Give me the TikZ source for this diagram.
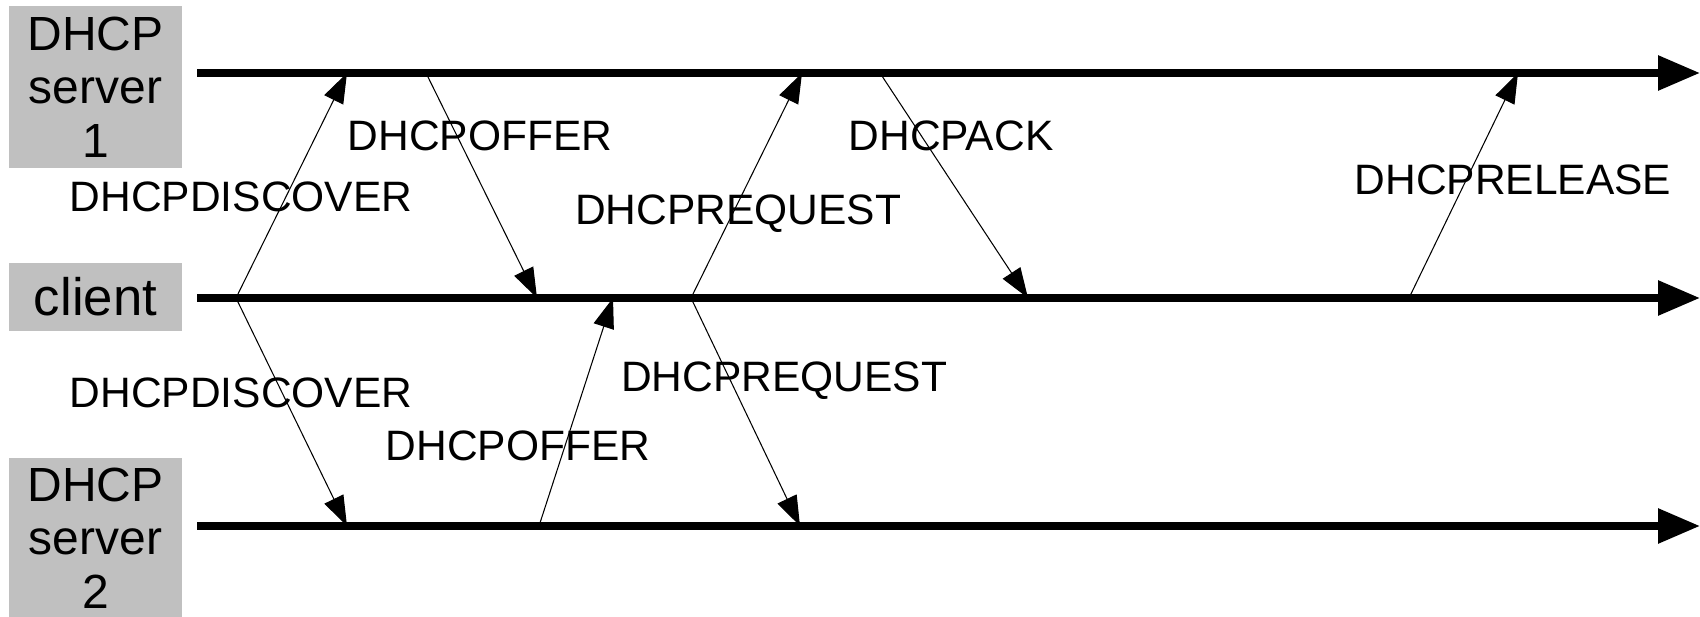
\documentclass[tikz,border=0pt]{standalone}
\usepackage{fontspec}
\setmainfont{Liberation Sans}
\usetikzlibrary{arrows.meta}
\definecolor{boxgray}{RGB}{192,192,192}

\begin{document}
\begin{tikzpicture}[x=0.02cm, y=-0.02cm,
  party/.style={fill=boxgray, minimum width=3.48cm, align=center, inner sep=0pt,
    font=\fontsize{27.3}{30.5}\selectfont},
  timeline/.style={line width=4.2pt, -{Triangle[length=0.84cm, width=0.67cm]}},
  msg/.style={line width=0.6pt, -{Triangle[length=0.6cm, width=0.42cm]}},
  lbl/.style={font=\fontsize{24.2}{29}\selectfont, inner sep=0pt}]
  \useasboundingbox (0,0) rectangle (1700,617);
  % the three parties
  \node[party, minimum height=3.24cm] (srv1) at (95.5,87) {DHCP\\server\\1};
  \node[party, minimum height=1.36cm, font=\fontsize{30}{32}\selectfont] (cli) at (95.5,297) {client};
  \node[party, minimum height=3.2cm] (srv2) at (95.5,538) {DHCP\\server\\2};
  % time lines
  \coordinate (s1a) at (197,73);  \coordinate (s1b) at (1700,73);
  \coordinate (ca) at (197,298);  \coordinate (cb) at (1700,298);
  \coordinate (s2a) at (197,526); \coordinate (s2b) at (1700,526);
  \draw[timeline] (s1a) -- (s1b);
  \draw[timeline] (ca) -- (cb);
  \draw[timeline] (s2a) -- (s2b);
  % events on server 1
  \coordinate (s1p1) at (347,73);
  \coordinate (s1p2) at (426,73);
  \coordinate (s1p3) at (802,73);
  \coordinate (s1p4) at (880,73);
  \coordinate (s1p5) at (1518,73);
  % events on the client
  \coordinate (cp1) at (236,298);
  \coordinate (cp2) at (537,298);
  \coordinate (cp3) at (613,298);
  \coordinate (cp4) at (691,298);
  \coordinate (cp5) at (1028,298);
  \coordinate (cp6) at (1409,298);
  % events on server 2
  \coordinate (s2p1) at (347,526);
  \coordinate (s2p2) at (539,526);
  \coordinate (s2p3) at (800,526);
  % messages
  \draw[msg] (cp1) -- (s1p1);
  \draw[msg] (cp1) -- (s2p1);
  \draw[msg] (s1p2) -- (cp2);
  \draw[msg] (s2p2) -- (cp3);
  \draw[msg] (cp4) -- (s1p3);
  \draw[msg] (cp4) -- (s2p3);
  \draw[msg] (s1p4) -- (cp5);
  \draw[msg] (cp6) -- (s1p5);
  % message names
  \node[lbl] (discover1) at (241,197) {DHCPDISCOVER};
  \node[lbl] (offer1) at (480,136) {DHCPOFFER};
  \node[lbl] (request1) at (738,214) {DHCPREQUEST};
  \node[lbl] (ack) at (951,136) {DHCPACK};
  \node[lbl] (release) at (1513,180) {DHCPRELEASE};
  \node[lbl] (discover2) at (241,393) {DHCPDISCOVER};
  \node[lbl] (offer2) at (518,446) {DHCPOFFER};
  \node[lbl] (request2) at (784,381) {DHCPREQUEST};
\end{tikzpicture}
\end{document}
